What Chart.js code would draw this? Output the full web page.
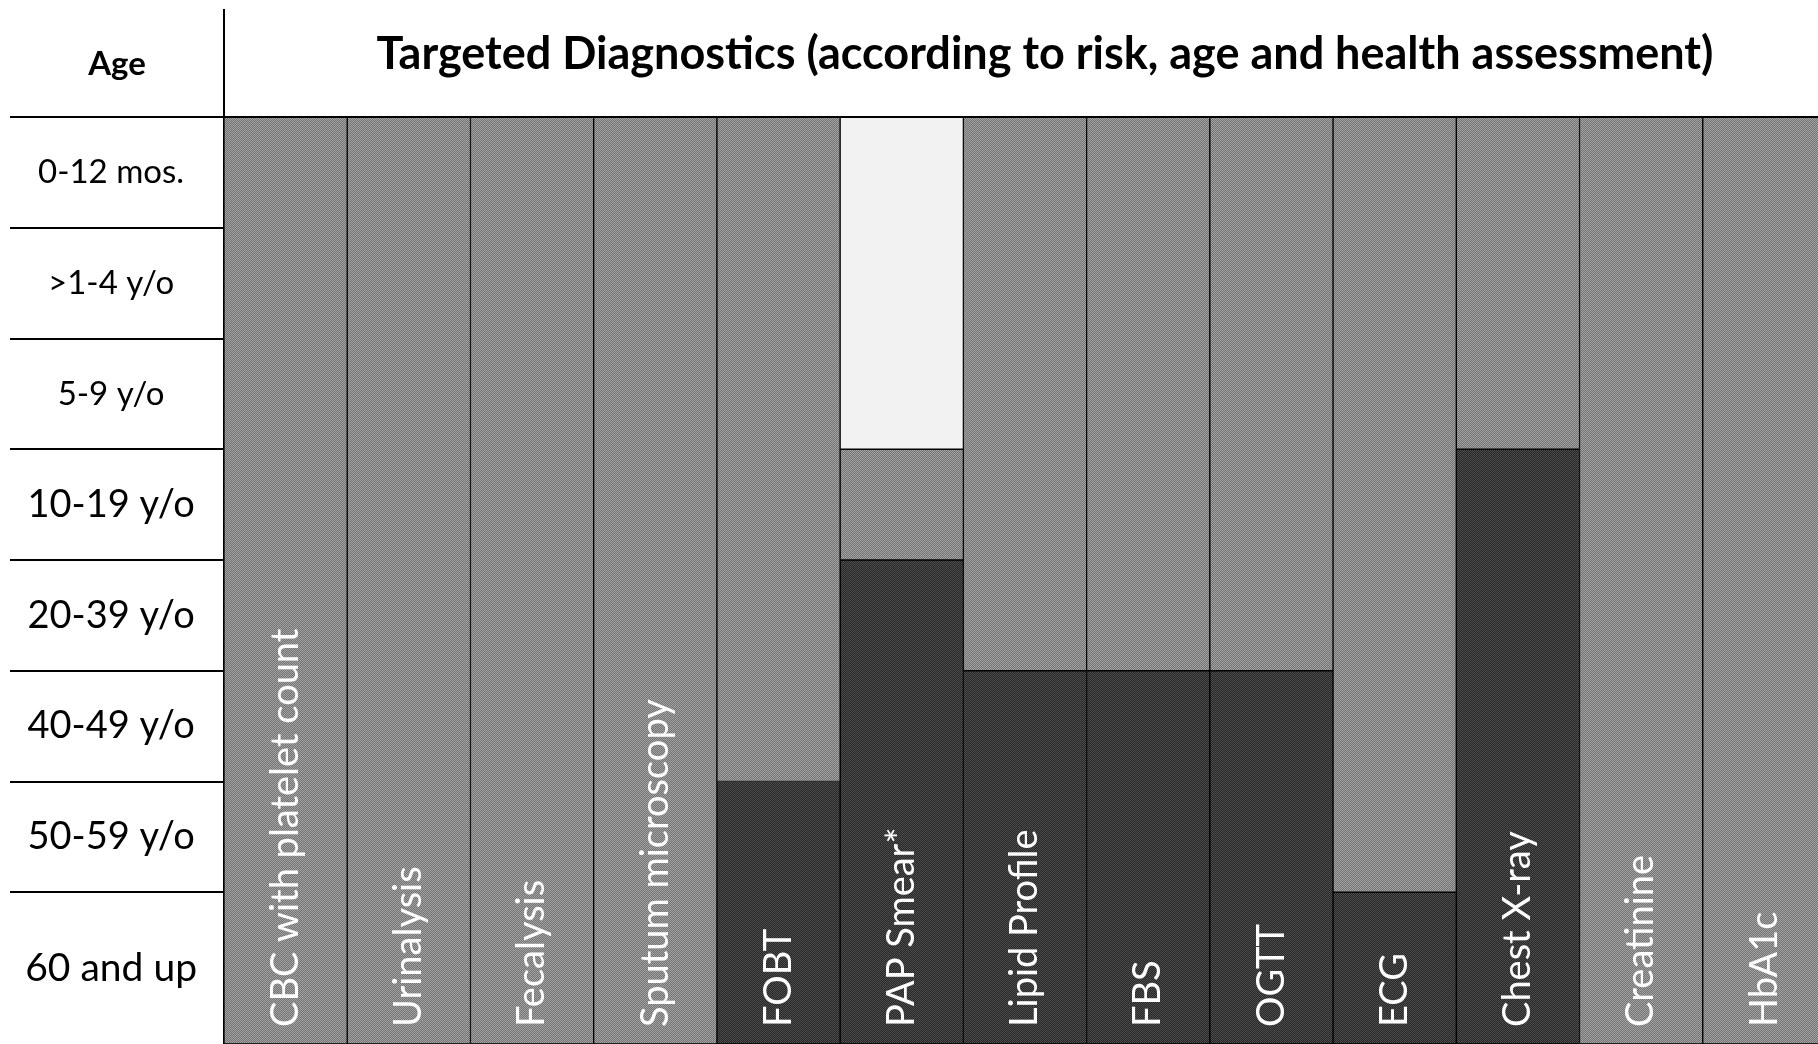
<!DOCTYPE html>
<html>
<head>
<meta charset="utf-8">
<title>Targeted Diagnostics</title>
<script src="https://cdn.jsdelivr.net/npm/chart.js@4"></script>
<style>
    body { margin: 0; background: #fff; overflow: hidden; }
    /* the table runs a few pixels past the right edge of the picture */
    #wrap { width: 1826px; height: 1044px; position: relative; }
</style>
</head>
<body>
<div id="wrap"><canvas id="diagChart"></canvas></div>
<script>
// columns of the table
const diagnostics = [
    'CBC with platelet count', 'Urinalysis', 'Fecalysis', 'Sputum microscopy',
    'FOBT', 'PAP Smear*', 'Lipid Profile', 'FBS', 'OGTT', 'ECG',
    'Chest X-ray', 'Creatinine', 'HbA1c'
];

// rows of the table, top to bottom
const ageGroups = [
    '0-12 mos.', '>1-4 y/o', '5-9 y/o', '10-19 y/o',
    '20-39 y/o', '40-49 y/o', '50-59 y/o', '60 and up'
];

// row index where the light (not applicable) shade ends, 0 = none
const notApplicableUntil = [0, 0, 0, 0, 0, 3, 0, 0, 0, 0, 0, 0, 0];

// row index where the dark (recommended) shade starts, null = never
const recommendedFrom = [null, null, null, null, 6, 4, 5, 5, 5, 7, 3, null, null];

const title = 'Targeted Diagnostics (according to risk, age and health assessment)';
const ageHeader = 'Age';

// last row is taller than the others
const tableEnd = ageGroups.length + 0.37;
const rowLabelSizes = [33, 33, 33, 38, 38, 38, 38, 39];

function makePattern(colorA, colorB) {
    const tile = document.createElement('canvas');
    tile.width = 2;
    tile.height = 2;
    const t = tile.getContext('2d');
    t.fillStyle = colorA;
    t.fillRect(0, 0, 2, 2);
    t.fillStyle = colorB;
    t.fillRect(0, 0, 1, 1);
    t.fillRect(1, 1, 1, 1);
    return t.createPattern(tile, 'repeat');
}

const midShade = makePattern('#727272', '#a4a4a4');
const darkShade = makePattern('#262626', '#4e4e4e');

const lightData = notApplicableUntil.map(n => n > 0 ? [0, n] : null);
const midData = diagnostics.map((d, i) => [notApplicableUntil[i], recommendedFrom[i] === null ? tableEnd : recommendedFrom[i]]);
const darkData = recommendedFrom.map(r => r === null ? null : [r, tableEnd]);

const tablePlugin = {
    id: 'tablePlugin',
    afterDraw(chart) {
        const ctx = chart.ctx;
        const area = chart.chartArea;
        const y = chart.scales.y;
        const x = chart.scales.x;

        ctx.save();
        ctx.strokeStyle = '#000';
        ctx.lineWidth = 2;

        // row lines in the age column
        for (let k = 0; k < ageGroups.length; k++) {
            const py = Math.round(y.getPixelForValue(k));
            ctx.beginPath();
            ctx.moveTo(10, py);
            ctx.lineTo(k === 0 ? chart.width : area.left, py);
            ctx.stroke();
        }

        // header divider
        ctx.beginPath();
        ctx.moveTo(area.left, 9);
        ctx.lineTo(area.left, area.top);
        ctx.stroke();

        // header text
        ctx.fillStyle = '#000';
        ctx.textAlign = 'center';
        ctx.textBaseline = 'middle';
        ctx.font = 'bold 33px Lato';
        ctx.fillText(ageHeader, (10 + area.left) / 2, 64);
        ctx.font = 'bold 45px Lato';
        ctx.fillText(title, (area.left + area.right) / 2 + 20, 54);

        // column names inside the bars
        ctx.fillStyle = '#fff';
        ctx.textAlign = 'left';
        ctx.font = '38px Lato';
        diagnostics.forEach((name, i) => {
            ctx.save();
            ctx.translate(x.getPixelForValue(i), area.bottom - 17);
            ctx.rotate(-Math.PI / 2);
            ctx.fillText(name, 0, 0);
            ctx.restore();
        });
        ctx.restore();
    }
};

const ctx = document.getElementById('diagChart').getContext('2d');

new Chart(ctx, {
    type: 'bar',
    data: {
        labels: diagnostics,
        datasets: [
            { label: 'Not applicable', data: lightData, backgroundColor: '#f2f2f2' },
            { label: 'Based on risk', data: midData, backgroundColor: midShade },
            { label: 'Recommended', data: darkData, backgroundColor: darkShade }
        ]
    },
    options: {
        responsive: true,
        maintainAspectRatio: false,
        animation: false,
        layout: { padding: { top: 117, right: 0, bottom: 0, left: 0 } },
        datasets: {
            bar: {
                borderColor: '#000',
                borderWidth: 1,
                borderSkipped: false,
                categoryPercentage: 1,
                barPercentage: 1
            }
        },
        plugins: {
            legend: { display: false },
            title: { display: false },
            tooltip: { enabled: false }
        },
        scales: {
            x: {
                stacked: true,
                display: false
            },
            y: {
                type: 'linear',
                reverse: true,
                min: 0,
                max: tableEnd,
                grid: { display: false, drawTicks: false },
                border: { display: true, color: '#000', width: 2 },
                afterFit: scale => {
                    scale.width = 224;
                    scale.paddingTop = 0;
                    scale.paddingBottom = 0;
                },
                afterBuildTicks: scale => {
                    scale.ticks = ageGroups.map((a, i) => ({
                        value: i === ageGroups.length - 1 ? (i + tableEnd) / 2 : i + 0.5
                    }));
                },
                ticks: {
                    crossAlign: 'center',
                    padding: 27,
                    color: '#000',
                    font: c => ({ family: 'Lato', size: rowLabelSizes[c.index] }),
                    callback: (value, index) => ageGroups[index]
                }
            }
        }
    },
    plugins: [tablePlugin]
});
</script>
</body>
</html>
